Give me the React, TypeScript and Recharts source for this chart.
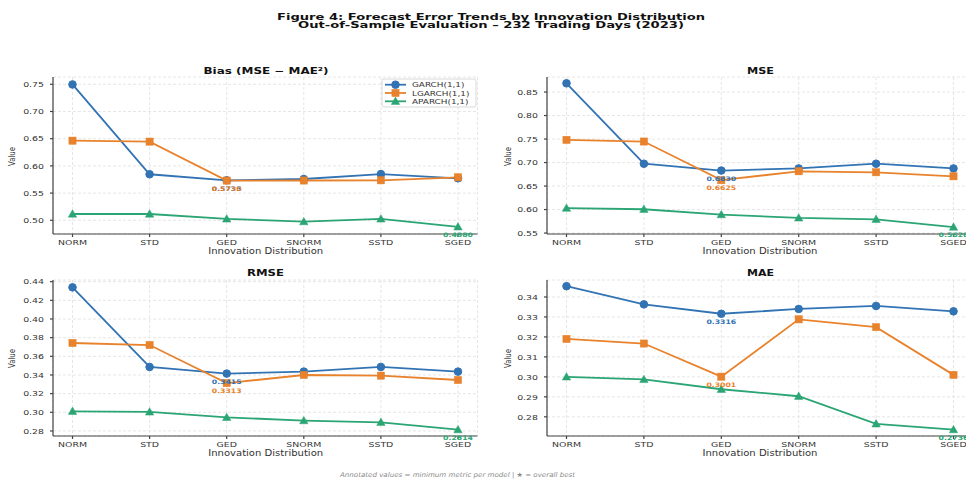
import React from 'react';
import { LineChart, Line, XAxis, YAxis, CartesianGrid, LabelList } from 'recharts';

// ---------- data ----------
const categories = ['NORM', 'STD', 'GED', 'SNORM', 'SSTD', 'SGED'];
const modelNames = ['GARCH(1,1)', 'LGARCH(1,1)', 'APARCH(1,1)'];

const biasGarch = [0.7497, 0.5846, 0.5735, 0.5759, 0.585, 0.5772];
const biasLgarch = [0.6464, 0.6446, 0.573, 0.5731, 0.5735, 0.579];
const biasAparch = [0.5116, 0.5116, 0.5025, 0.4975, 0.5025, 0.488];

const mseGarch = [0.8686, 0.6975, 0.683, 0.6875, 0.6975, 0.6875];
const mseLgarch = [0.7483, 0.7447, 0.6625, 0.6814, 0.6793, 0.6707];
const mseAparch = [0.6029, 0.6007, 0.5893, 0.5822, 0.5793, 0.5628];

const rmseGarch = [0.4339, 0.3486, 0.3415, 0.3436, 0.3486, 0.3436];
const rmseLgarch = [0.3743, 0.3721, 0.3313, 0.34, 0.3393, 0.3346];
const rmseAparch = [0.3011, 0.3004, 0.2946, 0.2911, 0.2893, 0.2814];

const maeGarch = [0.3454, 0.3363, 0.3316, 0.334, 0.3355, 0.3328];
const maeLgarch = [0.319, 0.3167, 0.3001, 0.3288, 0.3249, 0.301];
const maeAparch = [0.3, 0.2987, 0.2938, 0.2903, 0.2765, 0.2736];

const biasTicks = [0.5, 0.55, 0.6, 0.65, 0.7, 0.75];
const mseTicks = [0.55, 0.6, 0.65, 0.7, 0.75, 0.8, 0.85];
const rmseTicks = [0.28, 0.3, 0.32, 0.34, 0.36, 0.38, 0.4, 0.42, 0.44];
const maeTicks = [0.28, 0.29, 0.3, 0.31, 0.32, 0.33, 0.34];

const panelTitles = ['Bias (MSE \u2212 MAE\u00b2)', 'MSE', 'RMSE', 'MAE'];
const figTitle1 = 'Figure 4: Forecast Error Trends by Innovation Distribution';
const figTitle2 = 'Out-of-Sample Evaluation \u2013 232 Trading Days (2023)';
const footer = 'Annotated values = minimum metric per model | \u2605 = overall best';
const xLabel = 'Innovation Distribution';
const yLabel = 'Value';

// ---------- style ----------
const FONT = '"DejaVu Sans", Verdana, sans-serif';
const SX = 1.25;
const BLUE = '#3273b4';
const ORANGE = '#e8822c';
const GREEN = '#2ba574';
const AXIS = '#444';
const TXT = '#333';

const models = [
  { key: 'garch', name: modelNames[0], color: BLUE, shape: 'circle' },
  { key: 'lgarch', name: modelNames[1], color: ORANGE, shape: 'square' },
  { key: 'aparch', name: modelNames[2], color: GREEN, shape: 'triangle' },
];

function MarkerShape({ shape, cx, cy, color }: any) {
  if (cx == null || cy == null) return null;
  if (shape === 'circle') return <circle cx={cx} cy={cy} r={3.8} fill={color} stroke={color} />;
  if (shape === 'square')
    return <rect x={cx - 3.6} y={cy - 3.6} width={7.2} height={7.2} fill={color} stroke={color} strokeWidth={0.5} />;
  const s = 4.2;
  return (
    <polygon
      points={`${cx},${cy - s} ${cx - s},${cy + s * 0.75} ${cx + s},${cy + s * 0.75}`}
      fill={color}
      stroke={color}
      strokeWidth={0.5}
    />
  );
}

function XTick(props: any) {
  const { x, y, payload } = props;
  return (
    <g transform={`translate(${x},${y}) scale(${SX},1)`}>
      <text x={0} y={0} dy={6.2} textAnchor="middle" fontSize={7.5} fill={TXT} fontFamily={FONT}>
        {payload.value}
      </text>
    </g>
  );
}

function YTick(props: any) {
  const { x, y, payload } = props;
  return (
    <g transform={`translate(${x},${y}) scale(${SX},1)`}>
      <text x={0} y={0} dy={2.7} textAnchor="end" fontSize={7.5} fill={TXT} fontFamily={FONT}>
        {Number(payload.value).toFixed(2)}
      </text>
    </g>
  );
}

type Box = {
  left: number;
  top: number;
  width: number;
  height: number;
  plotLeft: number;
  plotRight: number;
  plotTop: number;
  plotBottom: number;
};

function Panel({ series, ticks, domain, box }: { series: number[][]; ticks: number[]; domain: [number, number]; box: Box }) {
  const rows = categories.map((c, i) => ({
    cat: c,
    garch: series[0][i],
    lgarch: series[1][i],
    aparch: series[2][i],
  }));
  const minIdx = series.map((s) => s.indexOf(Math.min(...s)));
  const mb = 4;
  return (
    <div style={{ position: 'absolute', left: box.left, top: box.top }}>
      <LineChart
        width={box.width}
        height={box.height}
        data={rows}
        margin={{ top: box.plotTop - box.top, right: box.left + box.width - box.plotRight, bottom: mb, left: 0 }}
      >
        <CartesianGrid stroke="#e6e6e6" strokeDasharray="3 2" />
        <XAxis
          dataKey="cat"
          interval={0}
          padding={{ left: 19.5, right: 19.5 }}
          height={box.top + box.height - box.plotBottom - mb}
          tick={<XTick />}
          tickSize={3}
          tickMargin={2}
          stroke={AXIS}
          strokeWidth={1.2}
        />
        <YAxis
          type="number"
          width={box.plotLeft - box.left}
          domain={domain}
          ticks={ticks}
          interval={0}
          allowDataOverflow
          tick={<YTick />}
          tickSize={3}
          tickMargin={6}
          stroke={AXIS}
          strokeWidth={1.2}
        />
        {models.map((m, mi) => (
          <Line
            key={m.key}
            type="linear"
            dataKey={m.key}
            name={m.name}
            stroke={m.color}
            strokeWidth={1.8}
            isAnimationActive={false}
            dot={(p: any) => (
              <g key={`d-${m.key}-${p.index}`}>
                <MarkerShape shape={m.shape} cx={p.cx} cy={p.cy} color={m.color} />
              </g>
            )}
            activeDot={false}
          >
            <LabelList
              dataKey={m.key}
              content={(p: any) => {
                if (p.index !== minIdx[mi]) return null;
                const x = Number(p.x);
                const y = Number(p.y);
                return (
                  <g transform={`translate(${x},${y + 10.2}) scale(${SX},1)`}>
                    <text
                      x={0}
                      y={0}
                      textAnchor="middle"
                      fontSize={6.2}
                      fontWeight="bold"
                      fill={m.color}
                      fontFamily={FONT}
                    >
                      {Number(p.value).toFixed(4)}
                    </text>
                  </g>
                );
              }}
            />
          </Line>
        ))}
      </LineChart>
    </div>
  );
}

const boxTL: Box = { left: 0, top: 60, width: 483, height: 200, plotLeft: 53, plotRight: 477.5, plotTop: 77, plotBottom: 234 };
const boxTR: Box = { left: 483, top: 60, width: 500, height: 200, plotLeft: 547, plotRight: 973, plotTop: 77, plotBottom: 234 };
const boxBL: Box = { left: 0, top: 262, width: 483, height: 200, plotLeft: 53, plotRight: 477.5, plotTop: 280, plotBottom: 436 };
const boxBR: Box = { left: 483, top: 262, width: 500, height: 200, plotLeft: 547, plotRight: 973, plotTop: 280, plotBottom: 436 };

function STxt({ x, y, len, size, children, weight, color, style, rotate }: any) {
  return (
    <text
      x={x}
      y={y}
      textAnchor="middle"
      fontSize={size}
      fontWeight={weight || 'normal'}
      fontStyle={style || 'normal'}
      fill={color || TXT}
      fontFamily={FONT}
      textLength={len}
      lengthAdjust="spacingAndGlyphs"
      transform={rotate ? `rotate(-90 ${x} ${y})` : undefined}
    >
      {children}
    </text>
  );
}

function LegendBox({ x, y }: { x: number; y: number }) {
  const rowH = 8.3;
  return (
    <g>
      <rect x={x} y={y} width={94} height={28} rx={2} fill="#fff" fillOpacity={0.85} stroke="#cfcfcf" strokeWidth={0.8} />
      {models.map((m, i) => {
        const cy = y + 5.7 + i * rowH;
        return (
          <g key={m.key}>
            <line x1={x + 3} x2={x + 24} y1={cy} y2={cy} stroke={m.color} strokeWidth={1.8} />
            <MarkerShape shape={m.shape} cx={x + 13.5} cy={cy} color={m.color} />
            <g transform={`translate(${x + 30},${cy + 2.5}) scale(${SX},1)`}>
              <text x={0} y={0} fontSize={7.1} fill={TXT} fontFamily={FONT}>
                {m.name}
              </text>
            </g>
          </g>
        );
      })}
    </g>
  );
}

export default function App() {
  return (
    <div
      style={{
        position: 'absolute',
        left: 0,
        top: 0,
        width: 966,
        height: 480,
        overflow: 'hidden',
        background: '#fff',
        fontFamily: FONT,
      }}
    >
      <Panel series={[biasGarch, biasLgarch, biasAparch]} ticks={biasTicks} domain={[0.4748, 0.7634]} box={boxTL} />
      <Panel series={[mseGarch, mseLgarch, mseAparch]} ticks={mseTicks} domain={[0.548, 0.882]} box={boxTR} />
      <Panel series={[rmseGarch, rmseLgarch, rmseAparch]} ticks={rmseTicks} domain={[0.2746, 0.4418]} box={boxBL} />
      <Panel series={[maeGarch, maeLgarch, maeAparch]} ticks={maeTicks} domain={[0.2704, 0.3485]} box={boxBR} />
      <svg
        width={966}
        height={480}
        style={{ position: 'absolute', left: 0, top: 0, pointerEvents: 'none' }}
      >
        <STxt x={491} y={19.5} len={428} size={8.6} weight="bold" color="#111">
          {figTitle1}
        </STxt>
        <STxt x={491} y={28} len={386} size={8.6} weight="bold" color="#111">
          {figTitle2}
        </STxt>

        <STxt x={266} y={74} len={125} size={8.7} weight="bold" color="#111">
          {panelTitles[0]}
        </STxt>
        <STxt x={760.5} y={74} len={27} size={8.7} weight="bold" color="#111">
          {panelTitles[1]}
        </STxt>
        <STxt x={265.5} y={276} len={37} size={8.7} weight="bold" color="#111">
          {panelTitles[2]}
        </STxt>
        <STxt x={760.5} y={276} len={27} size={8.7} weight="bold" color="#111">
          {panelTitles[3]}
        </STxt>

        <STxt x={265.7} y={254} len={115} size={8}>{xLabel}</STxt>
        <STxt x={760} y={254} len={115} size={8}>{xLabel}</STxt>
        <STxt x={265.7} y={455.5} len={115} size={8}>{xLabel}</STxt>
        <STxt x={760} y={455.5} len={115} size={8}>{xLabel}</STxt>

        <STxt x={15} y={156.5} len={19} size={8} rotate>{yLabel}</STxt>
        <STxt x={510.5} y={156.5} len={19} size={8} rotate>{yLabel}</STxt>
        <STxt x={15} y={358.5} len={19} size={8} rotate>{yLabel}</STxt>
        <STxt x={510.5} y={358.5} len={19} size={8} rotate>{yLabel}</STxt>

        <LegendBox x={382} y={79} />

        <STxt x={457.5} y={476.5} len={235} size={6.6} style="italic" color="#8a8a8a">
          {footer}
        </STxt>
      </svg>
    </div>
  );
}
